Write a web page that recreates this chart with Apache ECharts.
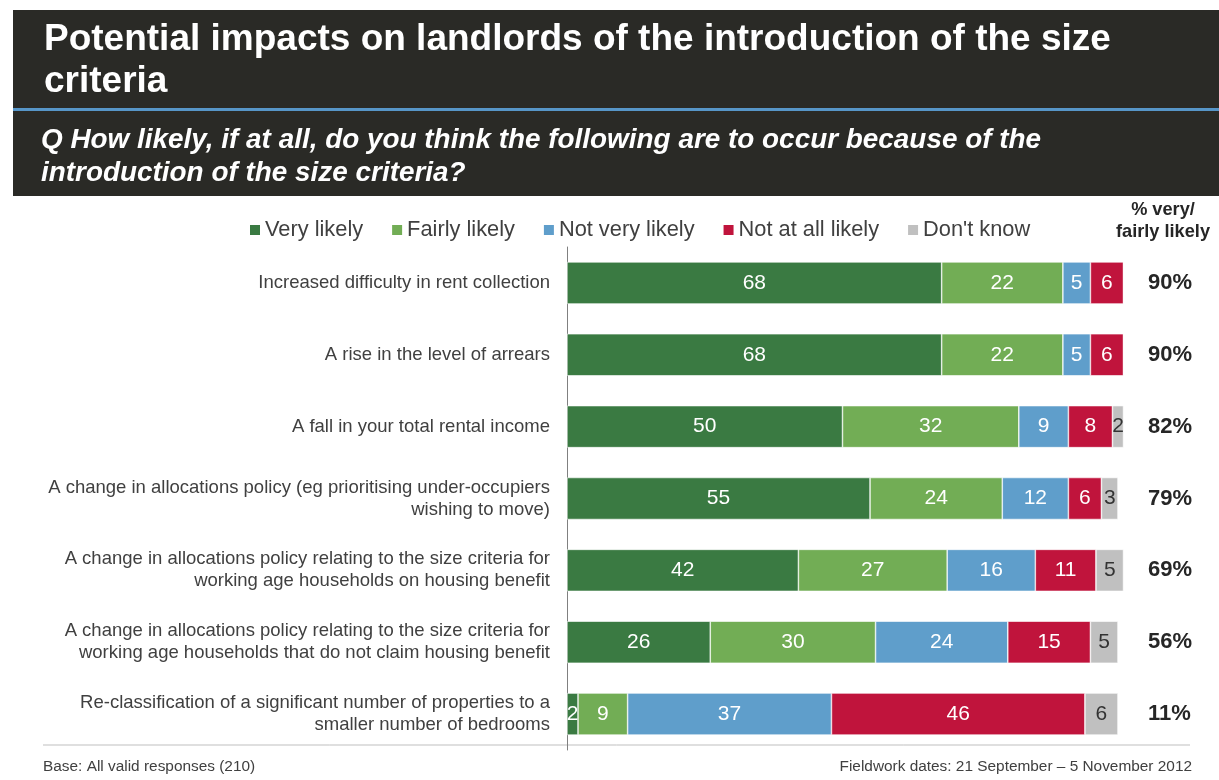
<!DOCTYPE html>
<html><head><meta charset="utf-8">
<script src="https://cdn.jsdelivr.net/npm/echarts@6/dist/echarts.min.js"></script>
<style>html,body{margin:0;padding:0;background:#fff}#c{width:1219px;height:780px}</style>
</head><body><div id="c"></div>
<script>
var categories = [
  'Increased difficulty in rent collection',
  'A rise in the level of arrears',
  'A fall in your total rental income',
  'A change in allocations policy (eg prioritising under-occupiers\nwishing to move)',
  'A change in allocations policy relating to the size criteria for\nworking age households on housing benefit',
  'A change in allocations policy relating to the size criteria for\nworking age households that do not claim housing benefit',
  'Re-classification of a significant number of properties to a\nsmaller number of bedrooms'
];
var seriesNames = ['Very likely', 'Fairly likely', 'Not very likely', 'Not at all likely', "Don't know"];
var veryLikely    = [68, 68, 50, 55, 42, 26, 2];
var fairlyLikely  = [22, 22, 32, 24, 27, 30, 9];
var notVeryLikely = [5, 5, 9, 12, 16, 24, 37];
var notAtAll      = [6, 6, 8, 6, 11, 15, 46];
var dontKnow      = [0, 0, 2, 3, 5, 5, 6];
var veryFairlyPct = [90, 90, 82, 79, 69, 56, 11];

var colors = ['#3a7a42', '#72ad55', '#5f9ecb', '#c0143c', '#c0c0c0'];
var allData = [veryLikely, fairlyLikely, notVeryLikely, notAtAll, dontKnow];
var FONT = '"Liberation Sans", Arial, sans-serif';

var series = allData.map(function (d, i) {
  return {
    name: seriesNames[i], type: 'bar', stack: 'total', data: d,
    barWidth: 42,
    itemStyle: { color: colors[i], borderColor: '#ffffff', borderWidth: 0.6 },
    label: {
      show: true, position: 'inside', fontFamily: FONT, fontSize: 21,
      color: i === 4 ? '#333333' : '#ffffff',
      formatter: function (p) { return p.value ? String(p.value) : ''; }
    },
    labelLayout: { hideOverlap: false }
  };
});

var chart = echarts.init(document.getElementById('c'), null, { renderer: 'canvas' });
chart.setOption({
  backgroundColor: '#ffffff',
  animation: false,
  textStyle: { fontFamily: FONT },
  legend: {
    data: seriesNames, left: 243, top: 214,
    itemWidth: 12, itemHeight: 12, itemGap: 27, icon: 'rect',
    textStyle: { fontFamily: FONT, fontSize: 21.8, color: '#404040', padding: [0, 0, 0, -1] }
  },
  grid: { left: 567, top: 247, width: 562, height: 503 },
  xAxis: { type: 'value', min: 0, max: 102, show: false },
  yAxis: [{
    type: 'category', data: categories, inverse: true,
    axisLine: { show: true, lineStyle: { color: '#808080', width: 1 } },
    axisTick: { show: false },
    axisLabel: { fontFamily: FONT, fontSize: 18.5, color: '#404040', margin: 17, lineHeight: 22, align: 'right' }
  }, {
    type: 'category', data: veryFairlyPct, inverse: true, position: 'right',
    axisLine: { show: false }, axisTick: { show: false },
    axisLabel: { fontFamily: FONT, fontSize: 22, fontWeight: 'bold', color: '#262626', margin: 19, align: 'left',
      formatter: function (v) { return v + '%'; } }
  }],
  series: series,
  graphic: [
    { type: 'rect', shape: { x: 13, y: 10, width: 1206, height: 98 }, style: { fill: '#2a2a26' }, silent: true },
    { type: 'rect', shape: { x: 13, y: 108, width: 1206, height: 3 }, style: { fill: '#5796c8' }, silent: true },
    { type: 'rect', shape: { x: 13, y: 111, width: 1206, height: 85 }, style: { fill: '#2a2a26' }, silent: true },
    { type: 'text', left: 44, top: 19, style: { text: 'Potential impacts on landlords of the introduction of the size\ncriteria', fill: '#ffffff', font: 'bold 37px ' + FONT, lineHeight: 42 } },
    { type: 'text', left: 41, top: 124, style: { text: 'Q How likely, if at all, do you think the following are to occur because of the\nintroduction of the size criteria?', fill: '#ffffff', font: 'italic bold 27.9px ' + FONT, lineHeight: 33 } },
    { type: 'text', x: 1163, y: 199, style: { text: '% very/\nfairly likely', fill: '#262626', font: 'bold 18.2px ' + FONT, lineHeight: 22, align: 'center' } },
    { type: 'line', shape: { x1: 43, y1: 745, x2: 1190, y2: 745 }, style: { stroke: '#bfbfbf', lineWidth: 1 } },
    { type: 'text', x: 43, y: 759, style: { text: 'Base: All valid responses (210)', fill: '#404040', font: '15.4px ' + FONT } },
    { type: 'text', x: 1192, y: 759, style: { text: 'Fieldwork dates: 21 September \u2013 5 November 2012', fill: '#404040', font: '15.4px ' + FONT, align: 'right' } }
  ]
});
</script></body></html>
